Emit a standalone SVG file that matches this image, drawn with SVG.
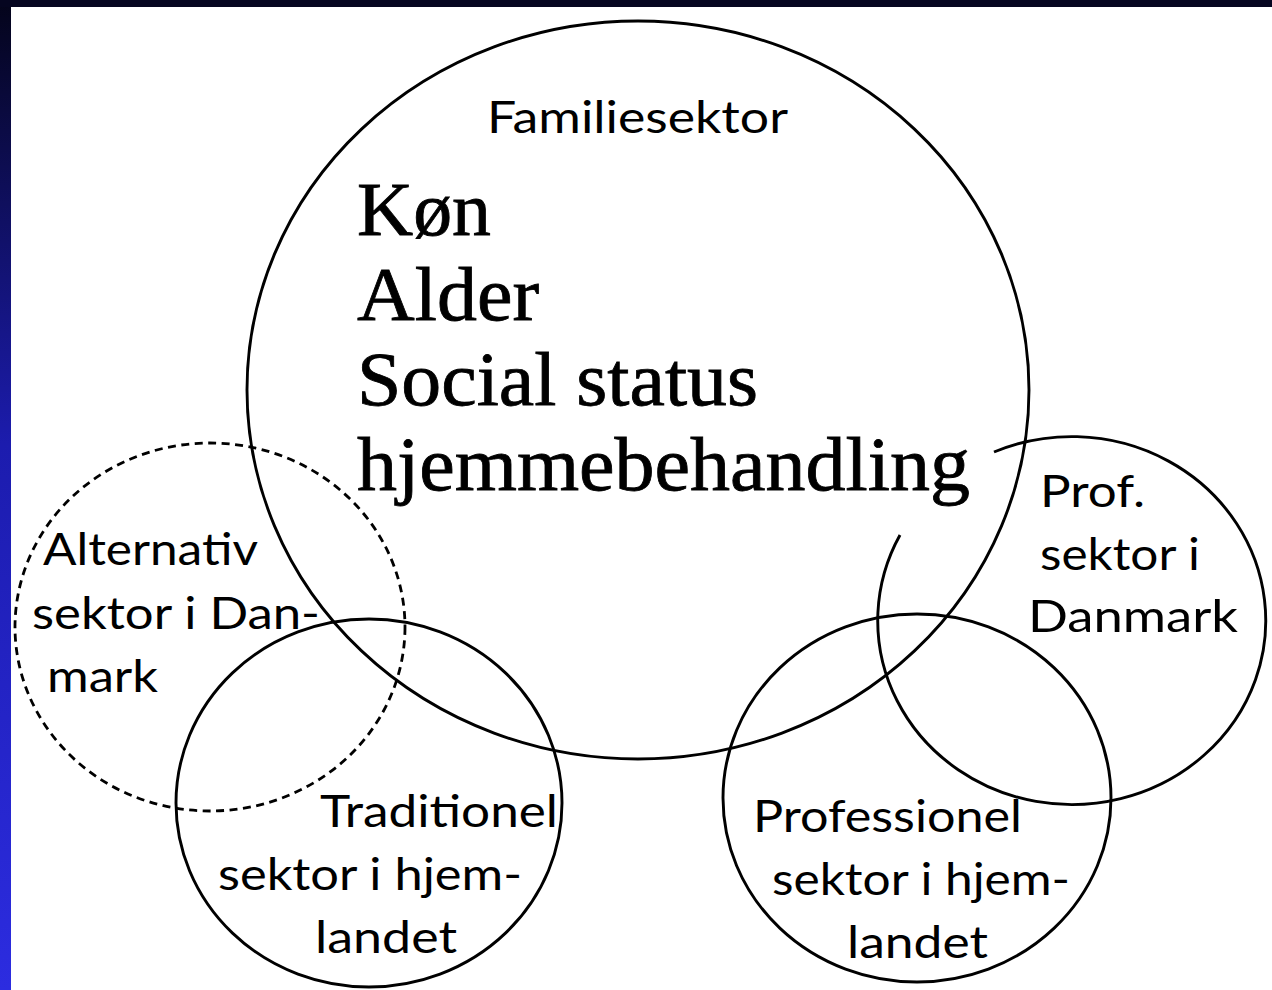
<svg xmlns="http://www.w3.org/2000/svg" width="1272" height="990" viewBox="0 0 1272 990">
  <defs>
    <linearGradient id="bg" x1="0" y1="0" x2="0" y2="1">
      <stop offset="0" stop-color="#04041a"/>
      <stop offset="0.45" stop-color="#1c1cae"/>
      <stop offset="1" stop-color="#2c2ce0"/>
    </linearGradient>
    <style>
      .ring { fill: none; stroke: #000; stroke-width: 2.9; }
      .dash { fill: none; stroke: #000; stroke-width: 2.8; stroke-dasharray: 8 5.5; }
      .sans { font-family: Lato, "Open Sans", "Liberation Sans", sans-serif; font-size: 44px; fill: #000; }
      .serif { font-family: "Liberation Serif", "DejaVu Serif", serif; font-size: 76px; fill: #000; stroke: #000; stroke-width: 0.8; }
    </style>
  </defs>

  <rect x="0" y="0" width="1272" height="990" fill="url(#bg)"/>
  <rect x="0" y="0" width="1272" height="7" fill="#050520"/>
  <rect x="11" y="7" width="1261" height="983" fill="#ffffff"/>

  <g id="familiesektor">
    <ellipse class="ring" cx="638" cy="390" rx="391" ry="369"/>
    <text class="sans" x="487" y="133" textLength="301" lengthAdjust="spacingAndGlyphs">Familiesektor</text>
    <text class="serif" x="357" y="235" textLength="134" lengthAdjust="spacingAndGlyphs">Køn</text>
    <text class="serif" x="357" y="320" textLength="182" lengthAdjust="spacingAndGlyphs">Alder</text>
    <text class="serif" x="357" y="405" textLength="401" lengthAdjust="spacingAndGlyphs">Social status</text>
    <text class="serif" x="357" y="490" textLength="613" lengthAdjust="spacingAndGlyphs">hjemmebehandling</text>
  </g>

  <g id="alternativ">
    <ellipse class="dash" cx="210" cy="627" rx="195" ry="184"/>
    <text class="sans" x="43" y="565" textLength="215" lengthAdjust="spacingAndGlyphs">Alternativ</text>
    <text class="sans" x="32" y="629" textLength="288" lengthAdjust="spacingAndGlyphs">sektor i Dan-</text>
    <text class="sans" x="47" y="692" textLength="111" lengthAdjust="spacingAndGlyphs">mark</text>
  </g>

  <g id="traditionel">
    <ellipse class="ring" cx="369" cy="803" rx="193" ry="184"/>
    <text class="sans" x="320" y="827" textLength="238" lengthAdjust="spacingAndGlyphs">Traditionel</text>
    <text class="sans" x="218" y="890" textLength="304" lengthAdjust="spacingAndGlyphs">sektor i hjem-</text>
    <text class="sans" x="315" y="953" textLength="142" lengthAdjust="spacingAndGlyphs">landet</text>
  </g>

  <g id="professionel">
    <ellipse class="ring" cx="917" cy="798" rx="194" ry="184"/>
    <text class="sans" x="753" y="832" textLength="269" lengthAdjust="spacingAndGlyphs">Professionel</text>
    <text class="sans" x="772" y="895" textLength="298" lengthAdjust="spacingAndGlyphs">sektor i hjem-</text>
    <text class="sans" x="847" y="958" textLength="141" lengthAdjust="spacingAndGlyphs">landet</text>
  </g>

  <g id="prof-danmark">
    <path class="ring" d="M 994 452 A 194 184 0 1 1 900 535"/>
    <text class="sans" x="1040" y="507" textLength="105" lengthAdjust="spacingAndGlyphs">Prof.</text>
    <text class="sans" x="1040" y="570" textLength="160" lengthAdjust="spacingAndGlyphs">sektor i</text>
    <text class="sans" x="1028" y="632" textLength="210" lengthAdjust="spacingAndGlyphs">Danmark</text>
  </g>

  <g id="connectors"/>
</svg>
